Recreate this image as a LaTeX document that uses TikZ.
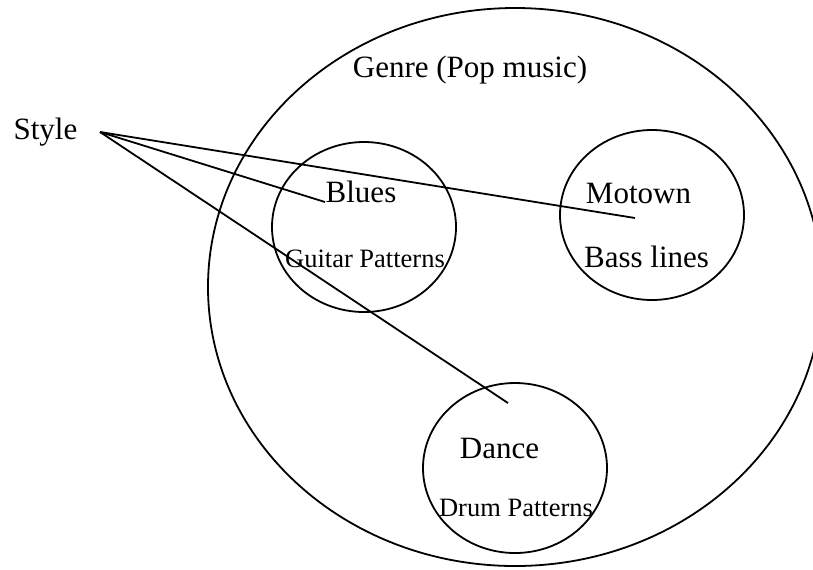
\documentclass[tikz,border=0pt]{standalone}
\usepackage{fontspec}
\setmainfont{Liberation Serif}
\usetikzlibrary{shapes.geometric}

\tikzset{
  bigtext/.style={font=\fontsize{15.5}{18}\selectfont, anchor=base, inner sep=0pt},
  smalltext/.style={font=\fontsize{13.25}{16}\selectfont, anchor=base, inner sep=0pt},
  oval/.style={draw, ellipse, inner sep=0pt, outer sep=0pt, minimum width=92pt, minimum height=85pt}
}

\begin{document}
\begin{tikzpicture}[x=0.5pt, y=-0.5pt, line width=0.9pt]
    \useasboundingbox (0,0) rectangle (813,569);
    \clip (0,0) rectangle (813,569);

    % circles
    \node[draw, ellipse, inner sep=0pt, minimum width=307pt, minimum height=279pt] (genre) at (515,287) {};
    \node[oval] (blues) at (364,227) {};
    \node[oval] (motown) at (652,215) {};
    \node[oval] (dance) at (515,468) {};

    % labels
    \node[bigtext] (genrelbl) at (470,77) {Genre (Pop music)};
    \node[bigtext] (style) at (45.5,139) {Style};
    \node[bigtext] (blueslbl) at (361,202) {Blues};
    \node[smalltext] (guitar) at (365,267) {Guitar Patterns};
    \node[bigtext] (motownlbl) at (638.5,203) {Motown};
    \node[bigtext] (bass) at (646.5,267) {Bass lines};
    \node[bigtext] (dancelbl) at (499.5,458) {Dance};
    \node[smalltext] (drum) at (516,516) {Drum Patterns};

    % lines from Style
    \coordinate (src) at (100,132);
    \coordinate (bluesend) at (325,202);
    \coordinate (motownend) at (635,218);
    \coordinate (danceend) at (508,403);

    \draw (src) -- (bluesend);
    \draw (src) -- (motownend);
    \draw (src) -- (danceend);
\end{tikzpicture}
\end{document}
